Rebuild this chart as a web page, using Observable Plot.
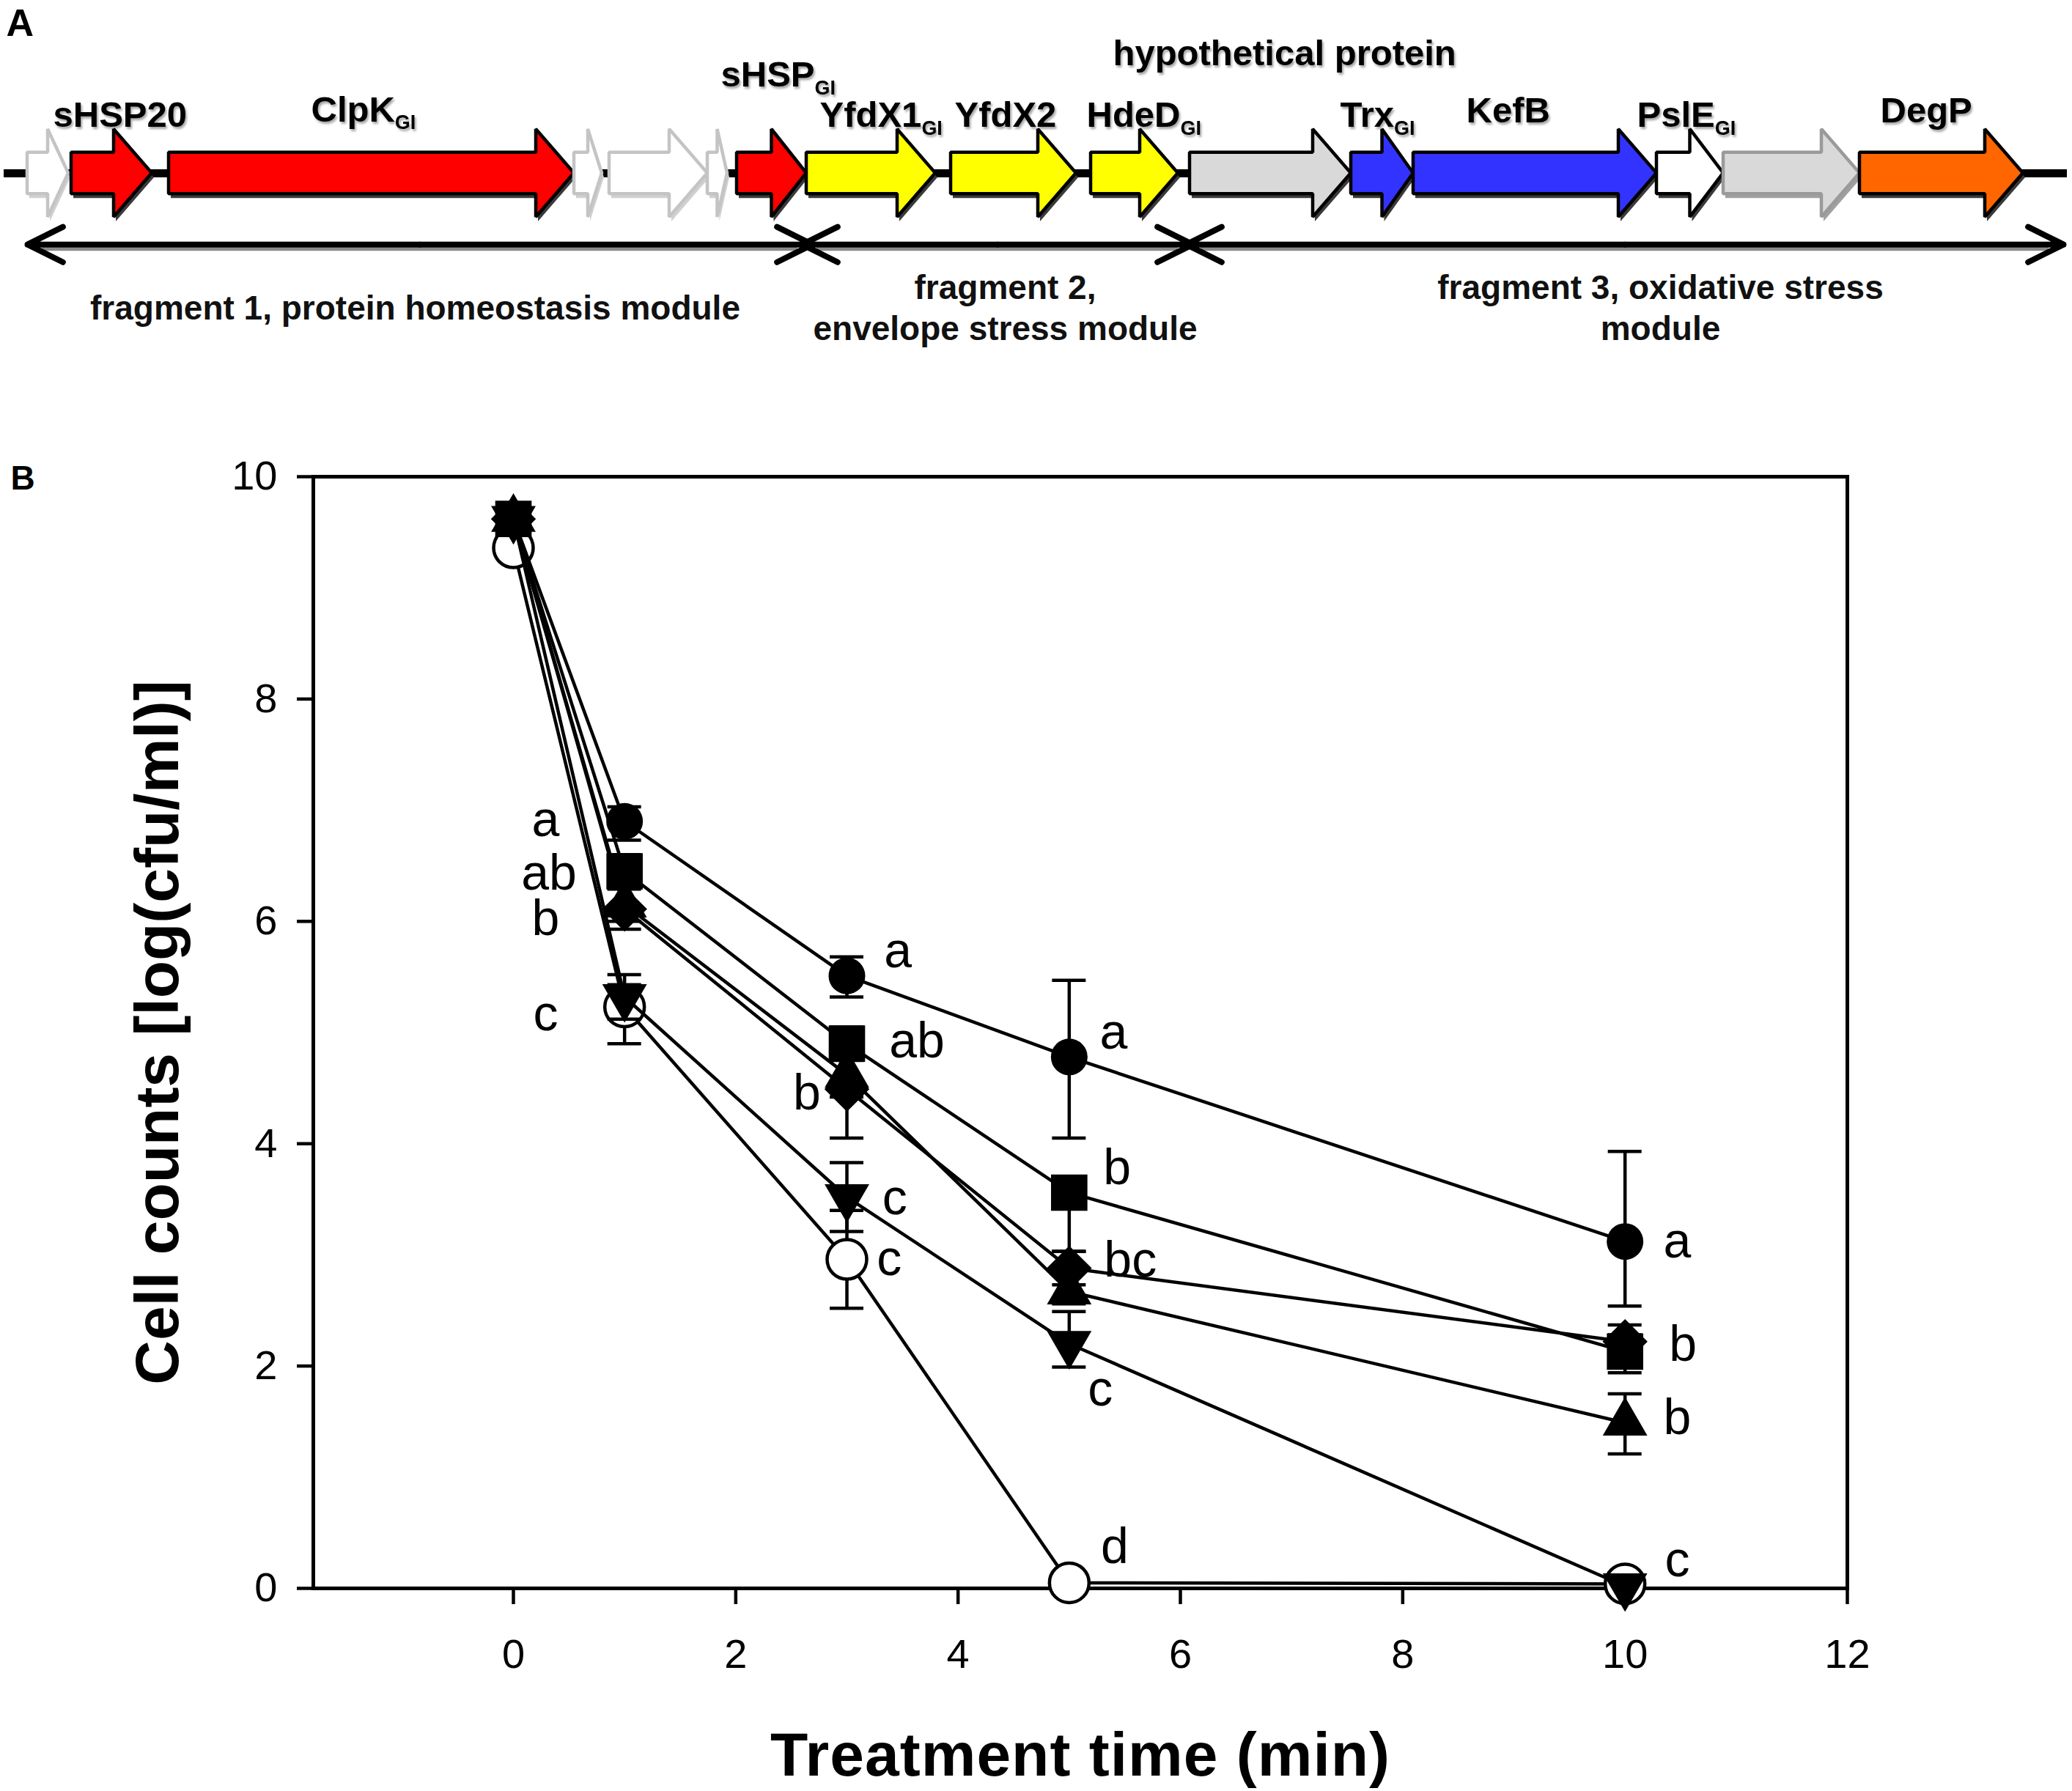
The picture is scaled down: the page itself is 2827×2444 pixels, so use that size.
<!DOCTYPE html>
<html>
<head>
<meta charset="utf-8">
<script src="https://cdn.jsdelivr.net/npm/d3@7"></script>
<script src="https://cdn.jsdelivr.net/npm/@observablehq/plot@0.6"></script>
<style>
  html, body { margin: 0; padding: 0; background: #fff; overflow: hidden; }
  #chart svg { display: block; max-width: none; }
</style>
</head>
<body>
<div id="chart"></div>
<script>
// ================= DATA: panel A (gene map, schematic map units) =================
const trackStart = 5;
const trackEnd = 2820;
const geneStart = [37, 97, 230, 783, 831, 965, 1005, 1100, 1297, 1488, 1623, 1843, 1928, 2260, 2351, 2537];
const geneEnd   = [93, 207, 783, 821, 965, 992, 1100, 1276, 1468, 1607, 1843, 1928, 2260, 2351, 2537, 2760];
const geneKind  = ["unknown", "chaperone", "chaperone", "unknown", "unknown", "unknown", "chaperone",
                   "envelope", "envelope", "envelope", "hypothetical", "redox", "redox", "pslE", "unknown2", "protease"];

const labelText = ["sHSP20", "ClpK", "sHSP", "YfdX1", "YfdX2", "HdeD", "hypothetical protein", "Trx", "KefB", "PslE", "DegP"];
const labelSub  = ["", "GI", "GI", "GI", "", "GI", "", "GI", "", "GI", ""];
const labelX    = [72, 424, 983, 1118, 1302, 1482, 1518, 1828, 2000, 2233, 2565];
const labelRow  = [1.05, 1.18, 1.97, 1.05, 1.05, 1.05, 2.45, 1.05, 1.15, 1.05, 1.15];

const fragStart  = [37, 1094, 1618];
const fragEnd    = [1108, 1627, 2815];
const fragLabel  = ["fragment 1, protein homeostasis module", "fragment 2,\nenvelope stress module", "fragment 3, oxidative stress\nmodule"];
const fragLabelX = [566, 1371, 2265];

// ================= DATA: panel B (survival curves) =================
const times = [0, 1, 3, 5, 10];
const xTicks = [0, 2, 4, 6, 8, 10, 12];
const yTicks = [0, 2, 4, 6, 8, 10];

const openCircleMean   = [9.36, 5.23, 2.96, 0.05, 0.04];
const openCircleUp     = [0, 0.20, 0.44, 0, 0];
const openCircleDown   = [0, 0.33, 0.44, 0, 0];

const triangleDownMean = [9.62, 5.32, 3.52, 2.20, 0.02];
const triangleDownUp   = [0, 0.20, 0.31, 0.29, 0];
const triangleDownDown = [0, 0.20, 0.31, 0.21, 0];

const triangleUpMean   = [9.62, 6.15, 4.62, 2.67, 1.49];
const triangleUpUp     = [0, 0.15, 0.20, 0.36, 0.26];
const triangleUpDown   = [0, 0.15, 0.20, 0.11, 0.28];

const diamondMean      = [9.62, 6.11, 4.49, 2.88, 2.22];
const diamondUp        = [0, 0.18, 0.30, 0.15, 0.15];
const diamondDown      = [0, 0.18, 0.44, 0.15, 0.15];

const squareMean       = [9.62, 6.45, 4.90, 3.56, 2.13];
const squareUp         = [0, 0.15, 0.15, 0, 0.15];
const squareDown       = [0, 0.15, 0.15, 0.53, 0.19];

const circleMean       = [9.62, 6.90, 5.51, 4.78, 3.12];
const circleUp         = [0, 0.13, 0.17, 0.69, 0.81];
const circleDown       = [0, 0.17, 0.19, 0.73, 0.58];

const letterT    = [0.29, 0.32, 0.29, 0.29, 3.46, 3.63, 2.64, 3.43, 3.38, 5.40, 5.43, 5.55, 5.28, 5.41, 10.47, 10.52, 10.47, 10.47];
const letterV    = [6.91, 6.43, 6.02, 5.16, 5.73, 4.92, 4.45, 3.51, 2.96, 5.00, 3.78, 2.95, 1.79, 0.37, 3.12, 2.19, 1.53, 0.25];
const letterText = ["a", "ab", "b", "c", "a", "ab", "b", "c", "c", "a", "b", "bc", "c", "d", "a", "b", "b", "c"];

// ================= STYLES =================
const FONT = "'Liberation Sans', Arial, Helvetica, sans-serif";
const W = 2827, HA = 540, HB = 1904;
const kindFill   = {unknown: "#ffffff", chaperone: "#ff0000", envelope: "#ffff00", hypothetical: "#d9d9d9",
                    redox: "#3333ff", pslE: "#ffffff", unknown2: "#d9d9d9", protease: "#ff6600"};
const kindStroke = {unknown: "#c4c4c4", unknown2: "#9a9a9a"};
const kindShadow = {unknown: "#d0d0d0", unknown2: "#a0a0a0"};
const BODY = 0.47, HEAD = 1.0, HEADLEN = 52, FRAG_ROW = -1.62, FRAG_LABEL_ROW = -3.03;
const FRAG_SW = 8, FRAG_HEAD_PX = 54;

// ---- build panel A tables ----
const genes = geneStart.map((s, i) => ({id: i, start: s, end: geneEnd[i], kind: geneKind[i]}));
const arrowPts = genes.flatMap(g => {
  const hl = Math.min(HEADLEN, (g.end - g.start) / 2);
  const h = g.end - hl;
  const fill = kindFill[g.kind], stroke = kindStroke[g.kind] || "#000", shadow = kindShadow[g.kind] || "#3a3a3a";
  return [
    {id: g.id, x: g.start, y1: -BODY, y2: BODY, fill, stroke, shadow},
    {id: g.id, x: h, y1: -BODY, y2: BODY, fill, stroke, shadow},
    {id: g.id, x: h, y1: -HEAD, y2: HEAD, fill, stroke, shadow},
    {id: g.id, x: g.end, y1: 0, y2: 0, fill, stroke, shadow}
  ];
});
const labels = labelText.map((t, i) => ({text: t, sub: labelSub[i], x: labelX[i], row: labelRow[i]}));
const frags = fragStart.map((s, i) => ({start: s, end: fragEnd[i], label: fragLabel[i], lx: fragLabelX[i]}));
const fragHalves = frags.flatMap(f => {
  const m = (f.start + f.end) / 2;
  return [{from: m, to: f.start}, {from: m, to: f.end}];
});

const svgA = Plot.plot({
  width: W, height: HA,
  marginLeft: 0, marginRight: 0, marginTop: 0, marginBottom: 0,
  x: {domain: [0, W], axis: null},
  y: {domain: [-5.067, 3.933], axis: null},
  style: {fontFamily: FONT, background: "white", overflow: "visible"},
  marks: [
    Plot.ruleY([{a: trackStart, b: trackEnd}], {y: 0, x1: "a", x2: "b", stroke: "black", strokeWidth: 11}),
    Plot.area(arrowPts, {x1: "x", y1: "y1", y2: "y2", z: "id", fill: "shadow", dx: 3, dy: 6}),
    Plot.area(arrowPts, {x1: "x", y1: "y1", y2: "y2", z: "id", fill: "fill", stroke: "stroke", strokeWidth: 4.5, strokeLinejoin: "miter"}),
    Plot.ruleY(frags, {y: FRAG_ROW, x1: d => d.start + 20, x2: d => d.end - 20, stroke: "#8a8a8a", strokeWidth: 5, dy: 6}),
    Plot.arrow(fragHalves, {x1: "from", x2: "to", y1: FRAG_ROW, y2: FRAG_ROW, stroke: "black", strokeWidth: FRAG_SW,
      headLength: FRAG_HEAD_PX * 1.5 / FRAG_SW, headAngle: 53}),
    Plot.text(labels, {x: "x", y: "row", text: "text", textAnchor: "start", lineAnchor: "bottom", fontSize: 49, fontWeight: "bold", fill: "black"}),
    Plot.text(frags, {x: "lx", y: FRAG_LABEL_ROW, text: "label", fontSize: 46, fontWeight: "bold", lineHeight: 1.22, lineAnchor: "middle", fill: "#111"}),
    Plot.text(["A"], {frameAnchor: "top-left", dx: 8, dy: 48, textAnchor: "start", lineAnchor: "bottom", fontSize: 52, fontWeight: "bold"})
  ]
});

// subscripts "GI" as real text spans
const subMap = new Map(labels.filter(l => l.sub).map(l => [l.text, l.sub]));
const labelSet = new Set(labels.map(l => l.text));
d3.select(svgA).selectAll("text").each(function () {
  const t = this.textContent;
  if (labelSet.has(t)) {
    d3.select(this).style("filter", "drop-shadow(2px 3px 1.5px rgba(0,0,0,0.35))");
    if (subMap.has(t)) {
      d3.select(this).append("tspan").attr("font-size", "0.55em").attr("dy", "0.4em").text(subMap.get(t));
    }
  }
});

// ---- build panel B tables ----
const sqrt3 = Math.sqrt(3);
const symTriUp = {draw(ctx, size) { const y = -Math.sqrt(size / (sqrt3 * 3)); ctx.moveTo(0, 2 * y); ctx.lineTo(-sqrt3 * y, -y); ctx.lineTo(sqrt3 * y, -y); ctx.closePath(); }};
const symTriDown = {draw(ctx, size) { const y = Math.sqrt(size / (sqrt3 * 3)); ctx.moveTo(0, 2 * y); ctx.lineTo(sqrt3 * y, -y); ctx.lineTo(-sqrt3 * y, -y); ctx.closePath(); }};
const symDiamond = {draw(ctx, size) { const h = Math.sqrt(size / 2); ctx.moveTo(0, -h); ctx.lineTo(h, 0); ctx.lineTo(0, h); ctx.lineTo(-h, 0); ctx.closePath(); }};

const seriesList = [
  {mean: openCircleMean, up: openCircleUp, down: openCircleDown, symbol: "circle", r: 27, fill: "white", stroke: "black"},
  {mean: triangleDownMean, up: triangleDownUp, down: triangleDownDown, symbol: symTriDown, r: 22.6, fill: "black", stroke: "none"},
  {mean: triangleUpMean, up: triangleUpUp, down: triangleUpDown, symbol: symTriUp, r: 22.6, fill: "black", stroke: "none"},
  {mean: diamondMean, up: diamondUp, down: diamondDown, symbol: symDiamond, r: 24.5, fill: "black", stroke: "none"},
  {mean: squareMean, up: squareUp, down: squareDown, symbol: "square", r: 28, fill: "black", stroke: "none"},
  {mean: circleMean, up: circleUp, down: circleDown, symbol: "circle", r: 25, fill: "black", stroke: "none"}
];

const LW = 4.5;
const seriesMarks = seriesList.flatMap(s => {
  const rows = times.map((t, i) => ({t, v: s.mean[i], hi: s.mean[i] + s.up[i], lo: s.mean[i] - s.down[i], up: s.up[i], down: s.down[i]}));
  const errRows = rows.filter(d => d.up > 0 || d.down > 0);
  const caps = rows.flatMap(d => [...(d.up > 0 ? [{t: d.t, y: d.hi}] : []), ...(d.down > 0 ? [{t: d.t, y: d.lo}] : [])]);
  return [
    Plot.line(rows, {x: "t", y: "v", stroke: "black", strokeWidth: LW}),
    Plot.ruleX(errRows, {x: "t", y1: "lo", y2: "hi", stroke: "black", strokeWidth: LW}),
    Plot.ruleY(caps, {y: "y", x1: "t", x2: "t", insetLeft: -23, insetRight: -23, stroke: "black", strokeWidth: LW}),
    Plot.dot(rows, {x: "t", y: "v", symbol: s.symbol, r: s.r, fill: s.fill, stroke: s.stroke, strokeWidth: LW})
  ];
});

const letters = letterText.map((t, i) => ({t: letterT[i], v: letterV[i], text: t}));

const xTitle = "Treatment time (min)";
const yTitle = "Cell counts [log(cfu/ml)]";

const svgB = Plot.plot({
  width: W, height: HB,
  marginLeft: 427, marginRight: 307, marginTop: 110, marginBottom: 277,
  x: {domain: [-1.8, 12]},
  y: {domain: [0, 10]},
  style: {fontFamily: FONT, background: "white", overflow: "visible", color: "black"},
  marks: [
    Plot.axisY({ticks: yTicks, tickSize: 22, tickPadding: 27, fontSize: 56, strokeWidth: LW, label: null}),
    Plot.axisX({ticks: xTicks, tickSize: 22, tickPadding: 47, fontSize: 56, strokeWidth: LW, label: null}),
    Plot.frame({stroke: "black", strokeWidth: 5}),
    ...seriesMarks,
    Plot.text(letters, {x: "t", y: "v", text: "text", fontSize: 68, textAnchor: "middle", lineAnchor: "middle", fill: "black"}),
    Plot.text([xTitle], {frameAnchor: "bottom", lineAnchor: "bottom", dy: 255, fontSize: 84, fontWeight: "bold", fill: "black"}),
    Plot.text([yTitle], {frameAnchor: "left", rotate: -90, textAnchor: "middle", lineAnchor: "bottom", dx: -185, fontSize: 84, fontWeight: "bold", fill: "black"}),
    Plot.text(["B"], {frameAnchor: "top-left", dx: -413, dy: 17, textAnchor: "start", lineAnchor: "bottom", fontSize: 46, fontWeight: "bold", fill: "black"})
  ]
});

d3.select(svgB).selectAll("text").each(function () {
  if (this.textContent === xTitle) d3.select(this).style("letter-spacing", "1px");
});

const root = document.getElementById("chart");
root.appendChild(svgA);
root.appendChild(svgB);
</script>
</body>
</html>
